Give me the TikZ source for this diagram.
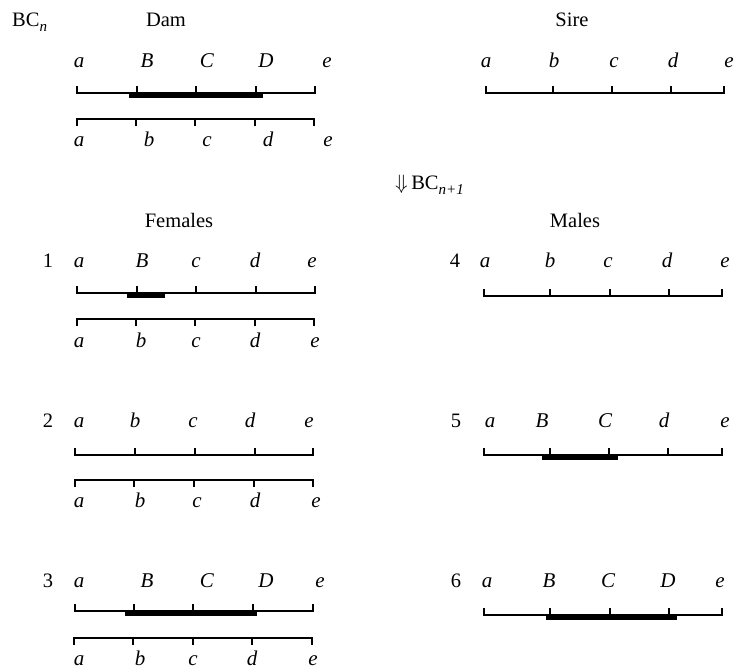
\documentclass[tikz,border=0pt]{standalone}
\usepackage{fontspec}
\setmainfont{Liberation Serif}
\tikzset{
  chrline/.style={line width=1.25pt, line cap=rect},
  segbar/.style={fill=black, draw=none},
  lab/.style={anchor=base, inner sep=0pt, font=\fontsize{21}{21}\selectfont\itshape},
  head/.style={anchor=base, inner sep=0pt, font=\fontsize{20.5}{21}\selectfont},
}
\newcommand{\chromline}[7]{%
  \draw[chrline] (#2,{#1-(#7)}) -- (#2,#1) -- (#6,#1) -- (#6,{#1-(#7)});
  \foreach \t in {#3,#4,#5} \draw[chrline] (\t,#1) -- (\t,{#1-(#7)});
}
\newcommand{\segment}[3]{\fill[segbar] (#2,{#1-0.6}) rectangle (#3,{#1+4.6});}
\newcommand{\subsc}[1]{\raisebox{-4.5pt}{\fontsize{15}{15}\selectfont\itshape #1}}
\begin{document}
\begin{tikzpicture}[x=1pt,y=-1pt]
\useasboundingbox (0,0) rectangle (736,668);
% headings
\node[head, anchor=base west] (bcn) at (12,27) {BC\subsc{n}};
\node[head] (dam) at (166,27) {Dam};
\node[head] (sire) at (572,27) {Sire};
\node[head, anchor=base west] (bcn1) at (395,190) {$\Downarrow$\,BC\subsc{n+1}};
\node[head] (fem) at (179,228) {Females};
\node[head] (mal) at (575,228) {Males};
% Dam
\foreach \x/\l in {79/a,147/B,207/C,266/D,327/e} \node[lab] (damt-\l) at (\x,68) {\l};
\segment{93}{129}{263}
\chromline{93}{77}{137}{196}{256}{315}{6}
\chromline{119}{77}{136}{195}{255}{314}{-6}
\foreach \x/\l in {79/a,149/b,207/c,268/d,328/e} \node[lab] (damb-\l) at (\x,147) {\l};
% Sire
\foreach \x/\l in {486/a,554/b,614/c,673/d,729/e} \node[lab] (sire-\l) at (\x,68) {\l};
\chromline{93}{486}{553}{612}{671}{724}{6}
% Female 1
\node[head] (n1) at (48,268) {1};
\foreach \x/\l in {79/a,142/B,196/c,255/d,312/e} \node[lab] (f1t-\l) at (\x,268) {\l};
\segment{293}{127}{165}
\chromline{293}{77}{137}{196}{256}{315}{6}
\chromline{319}{77}{136}{195}{255}{314}{-6}
\foreach \x/\l in {79/a,141/b,196/c,255/d,315/e} \node[lab] (f1b-\l) at (\x,347) {\l};
% Male 4
\node[head] (n4) at (455,268) {4};
\foreach \x/\l in {485/a,550/b,608/c,667/d,725/e} \node[lab] (m4-\l) at (\x,268) {\l};
\chromline{296}{484}{550}{610}{669}{722}{6}
% Female 2
\node[head] (n2) at (48,427) {2};
\foreach \x/\l in {79/a,135/b,193/c,250/d,309/e} \node[lab] (f2t-\l) at (\x,427) {\l};
\chromline{455}{75}{135}{195}{255}{313}{6}
\chromline{480}{75}{134}{194}{254}{313}{-6}
\foreach \x/\l in {79/a,140/b,197/c,255/d,316/e} \node[lab] (f2b-\l) at (\x,507) {\l};
% Male 5
\node[head] (n5) at (456,427) {5};
\foreach \x/\l in {490/a,542/B,605/C,664/d,725/e} \node[lab] (m5-\l) at (\x,427) {\l};
\segment{455}{542}{618}
\chromline{455}{484}{550}{609}{668}{722}{6}
% Female 3
\node[head] (n3) at (48,587) {3};
\foreach \x/\l in {79/a,147/B,207/C,266/D,320/e} \node[lab] (f3t-\l) at (\x,587) {\l};
\segment{611}{125}{257}
\chromline{611}{75}{134}{193}{253}{313}{6}
\chromline{638}{74}{133}{193}{252}{312}{-6}
\foreach \x/\l in {79/a,140/b,193/c,252/d,313/e} \node[lab] (f3b-\l) at (\x,665) {\l};
% Male 6
\node[head] (n6) at (456,587) {6};
\foreach \x/\l in {487/a,549/B,608/C,668/D,720/e} \node[lab] (m6-\l) at (\x,587) {\l};
\segment{615}{546}{677}
\chromline{615}{484}{550}{610}{669}{722}{6}
\end{tikzpicture}
\end{document}
